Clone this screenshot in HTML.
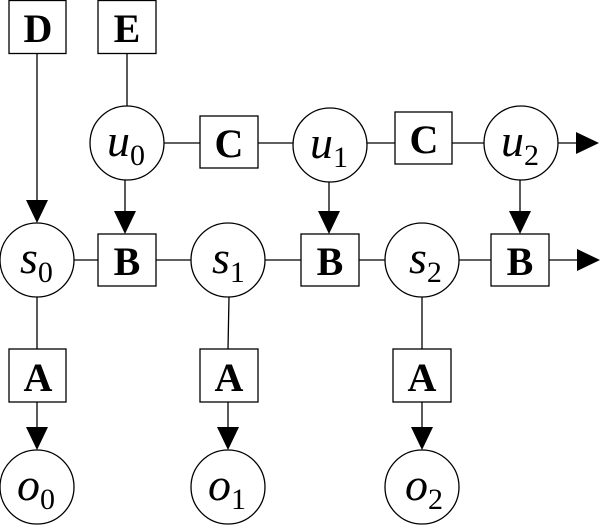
<!DOCTYPE html>
<html><head><style>body{margin:0;background:#fff}svg{display:block}</style></head><body>
<svg width="602" height="526" xmlns="http://www.w3.org/2000/svg" font-family="Liberation Serif, serif">
<g fill="#fff" stroke="#000" stroke-width="1.3">
<line x1="37" y1="53" x2="37" y2="205"/>
<line x1="127" y1="53" x2="127" y2="106"/>
<line x1="164" y1="143" x2="200" y2="143"/>
<line x1="258" y1="143" x2="293" y2="143"/>
<line x1="367" y1="143" x2="395" y2="143"/>
<line x1="452" y1="143" x2="484" y2="143"/>
<line x1="558" y1="143" x2="578" y2="143"/>
<line x1="125" y1="180" x2="125" y2="214"/>
<line x1="329" y1="180" x2="329" y2="214"/>
<line x1="520" y1="180" x2="520" y2="214"/>
<line x1="74" y1="260" x2="98" y2="260"/>
<line x1="156" y1="260" x2="191" y2="260"/>
<line x1="265" y1="260" x2="301" y2="260"/>
<line x1="359" y1="260" x2="385" y2="260"/>
<line x1="459" y1="260" x2="491" y2="260"/>
<line x1="549" y1="260" x2="578" y2="260"/>
<line x1="37" y1="297" x2="37" y2="349"/>
<line x1="229" y1="297" x2="228" y2="349"/>
<line x1="422" y1="297" x2="422" y2="349"/>
<line x1="37" y1="402" x2="37" y2="430"/>
<line x1="228" y1="402" x2="228" y2="430"/>
<line x1="422" y1="402" x2="422" y2="430"/>
<rect x="9" y="0.5" width="57" height="53"/>
<rect x="98" y="0.5" width="58" height="53"/>
<rect x="200" y="116" width="58" height="52"/>
<rect x="395" y="112" width="57" height="52"/>
<rect x="98" y="234" width="58" height="52"/>
<rect x="301" y="234" width="58" height="52"/>
<rect x="491" y="234" width="58" height="52"/>
<rect x="9" y="349" width="57" height="53"/>
<rect x="200" y="349" width="58" height="53"/>
<rect x="393" y="349" width="58" height="53"/>
<circle cx="127" cy="143" r="37"/>
<circle cx="330" cy="145" r="37"/>
<circle cx="521" cy="143" r="37"/>
<circle cx="37" cy="260" r="37"/>
<circle cx="228" cy="260" r="37"/>
<circle cx="422" cy="260" r="37"/>
<circle cx="37" cy="487" r="37"/>
<circle cx="228" cy="487" r="37"/>
<circle cx="422" cy="487" r="37"/>
</g>
<g fill="#000">
<polygon points="26,200 48,200 37,223"/>
<polygon points="114,211 136,211 125,234"/>
<polygon points="318,211 340,211 329,234"/>
<polygon points="509,211 531,211 520,234"/>
<polygon points="26,427 48,427 37,450"/>
<polygon points="217,427 239,427 228,450"/>
<polygon points="411,427 433,427 422,450"/>
<polygon points="576,132 576,154 599,143"/>
<polygon points="577,249 577,271 600,260"/>
</g>
<g font-weight="bold" font-size="40" text-anchor="middle">
<text x="38" y="42">D</text>
<text x="127" y="42">E</text>
<text x="229" y="157">C</text>
<text x="424" y="153">C</text>
<text x="127" y="275">B</text>
<text x="330" y="275">B</text>
<text x="520" y="275">B</text>
<text x="38" y="391">A</text>
<text x="229" y="391">A</text>
<text x="422" y="391">A</text>
</g>
<g font-size="46" font-style="italic">
<text x="107" y="156">u<tspan font-style="normal" font-size="30" dy="9">0</tspan></text>
<text x="310" y="158">u<tspan font-style="normal" font-size="30" dy="9">1</tspan></text>
<text x="501" y="156">u<tspan font-style="normal" font-size="30" dy="9">2</tspan></text>
<text x="20" y="273">s<tspan font-style="normal" font-size="30" dy="9">0</tspan></text>
<text x="212" y="273">s<tspan font-style="normal" font-size="30" dy="9">1</tspan></text>
<text x="409" y="273">s<tspan font-style="normal" font-size="30" dy="9">2</tspan></text>
<text x="17" y="500">o<tspan font-style="normal" font-size="30" dy="9">0</tspan></text>
<text x="208" y="500">o<tspan font-style="normal" font-size="30" dy="9">1</tspan></text>
<text x="405" y="500">o<tspan font-style="normal" font-size="30" dy="9">2</tspan></text>
</g>
</svg>
</body></html>
